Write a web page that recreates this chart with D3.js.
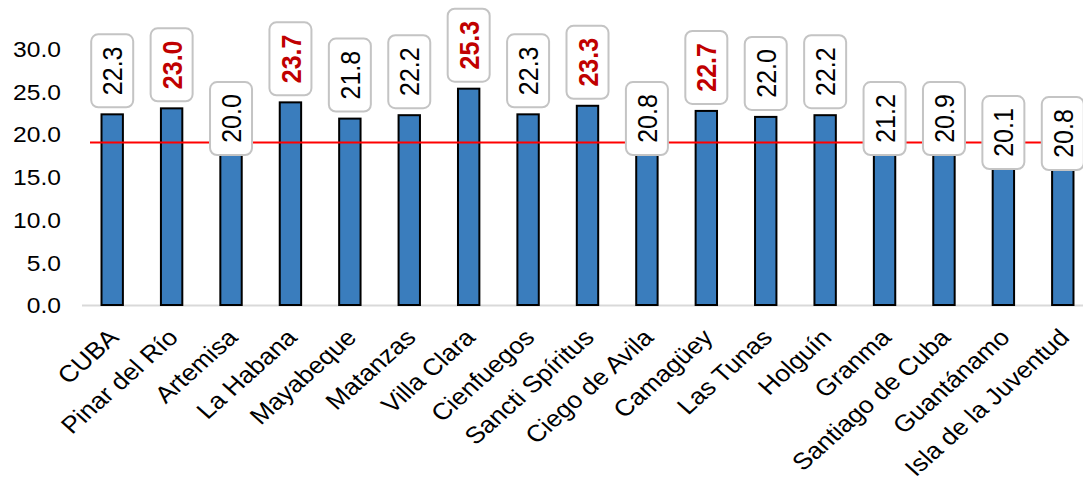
<!DOCTYPE html>
<html>
<head>
<meta charset="utf-8">
<script src="https://cdn.jsdelivr.net/npm/d3@7"></script>
<style>
  body { margin: 0; background: #fff; }
  text { font-family: "Liberation Sans", Arial, sans-serif; }
</style>
</head>
<body>
<div id="chart"></div>
<script>
var provinces = ["CUBA", "Pinar del Río", "Artemisa", "La Habana", "Mayabeque", "Matanzas",
  "Villa Clara", "Cienfuegos", "Sancti Spíritus", "Ciego de Avila", "Camagüey", "Las Tunas",
  "Holguín", "Granma", "Santiago de Cuba", "Guantánamo", "Isla de la Juventud"];
var values = [22.3, 23.0, 20.0, 23.7, 21.8, 22.2, 25.3, 22.3, 23.3, 20.8, 22.7, 22.0, 22.2, 21.2, 20.9, 20.1, 20.8];
var yTicks = [0, 5, 10, 15, 20, 25, 30];
var reference = 19.0;

var svgWidth = 1083, svgHeight = 485;
var sx = 1.12; // text in the picture is a bit wider than tall

var svg = d3.select("#chart").append("svg")
  .attr("width", svgWidth)
  .attr("height", svgHeight);

var xScale = d3.scaleBand()
  .domain(provinces)
  .range([82.5, 1092.5])
  .paddingInner(0.64)
  .paddingOuter(0.32);

var yScale = d3.scaleLinear()
  .domain([0, 30])
  .range([305, 48.5]);

// baseline
svg.append("line")
  .attr("x1", 82).attr("x2", svgWidth)
  .attr("y1", yScale(0) + 0.5).attr("y2", yScale(0) + 0.5)
  .attr("stroke", "#d9d9d9")
  .attr("stroke-width", 2);

// y axis, labels only
var leftAxis = d3.axisLeft(yScale).tickValues(yTicks).tickFormat(d3.format(".1f")).tickSize(0);
var yAxis = svg.append("g").attr("transform", "translate(61,0)").call(leftAxis);
yAxis.select(".domain").remove();
yAxis.selectAll("text")
  .attr("x", 0)
  .attr("dy", "0.36em")
  .attr("font-size", 22)
  .attr("fill", "#000")
  .style("font-family", "'Liberation Sans', Arial, sans-serif");
yAxis.selectAll(".tick").each(function() {
  var t = d3.select(this).attr("transform");
  var y = +t.match(/,([\d.\-]+)/)[1];
  d3.select(this).attr("transform", null);
  d3.select(this).select("text").attr("transform", "translate(0," + y + ") scale(" + sx + ",1)");
});

// bars
svg.selectAll("rect.bar")
  .data(values)
  .enter()
  .append("rect")
  .attr("class", "bar")
  .attr("x", (d, i) => xScale(provinces[i]))
  .attr("y", d => yScale(d))
  .attr("width", xScale.bandwidth())
  .attr("height", d => yScale(0) - yScale(d))
  .attr("fill", "#3a7dbd")
  .attr("stroke", "#000")
  .attr("stroke-width", 2);

// reference line
svg.append("line")
  .attr("x1", 90).attr("x2", svgWidth)
  .attr("y1", yScale(reference)).attr("y2", yScale(reference))
  .attr("stroke", "#ff0000")
  .attr("stroke-width", 2);

// data labels
var boxW = 42, boxH = 73;
var extraShift = { "Guantánamo": 14, "Isla de la Juventud": 15 };
var labels = svg.selectAll("g.lbl")
  .data(values)
  .enter()
  .append("g")
  .attr("class", "lbl")
  .attr("transform", function(d, i) {
    var cx = xScale(provinces[i]) + xScale.bandwidth() / 2;
    var cy;
    if (d >= 21.5) cy = yScale(d) - 7 - boxH / 2;
    else cy = yScale(reference) - 24 + (extraShift[provinces[i]] || 0);
    return "translate(" + cx + "," + cy + ")";
  });

labels.append("rect")
  .attr("x", -boxW / 2).attr("y", -boxH / 2)
  .attr("width", boxW).attr("height", boxH)
  .attr("rx", 7)
  .attr("fill", "#fff")
  .attr("stroke", "#c4c4c4")
  .attr("stroke-width", 2);

labels.append("text")
  .attr("transform", "scale(" + sx + ",1) rotate(-90)")
  .attr("text-anchor", "middle")
  .attr("dy", "0.36em")
  .attr("font-size", 25)
  .attr("font-weight", d => d > values[0] ? "bold" : "normal")
  .attr("fill", d => d > values[0] ? "#c00000" : "#000")
  .text(d => d.toFixed(1));

// x labels
svg.selectAll("text.xl")
  .data(provinces)
  .enter()
  .append("text")
  .attr("class", "xl")
  .attr("text-anchor", "end")
  .attr("font-size", 23.5)
  .attr("fill", "#000")
  .attr("transform", d => "translate(" + (xScale(d) + xScale.bandwidth() / 2 + 8) + ",339) scale(" + sx + ",1) rotate(-45)")
  .text(d => d);
</script>
</body>
</html>
